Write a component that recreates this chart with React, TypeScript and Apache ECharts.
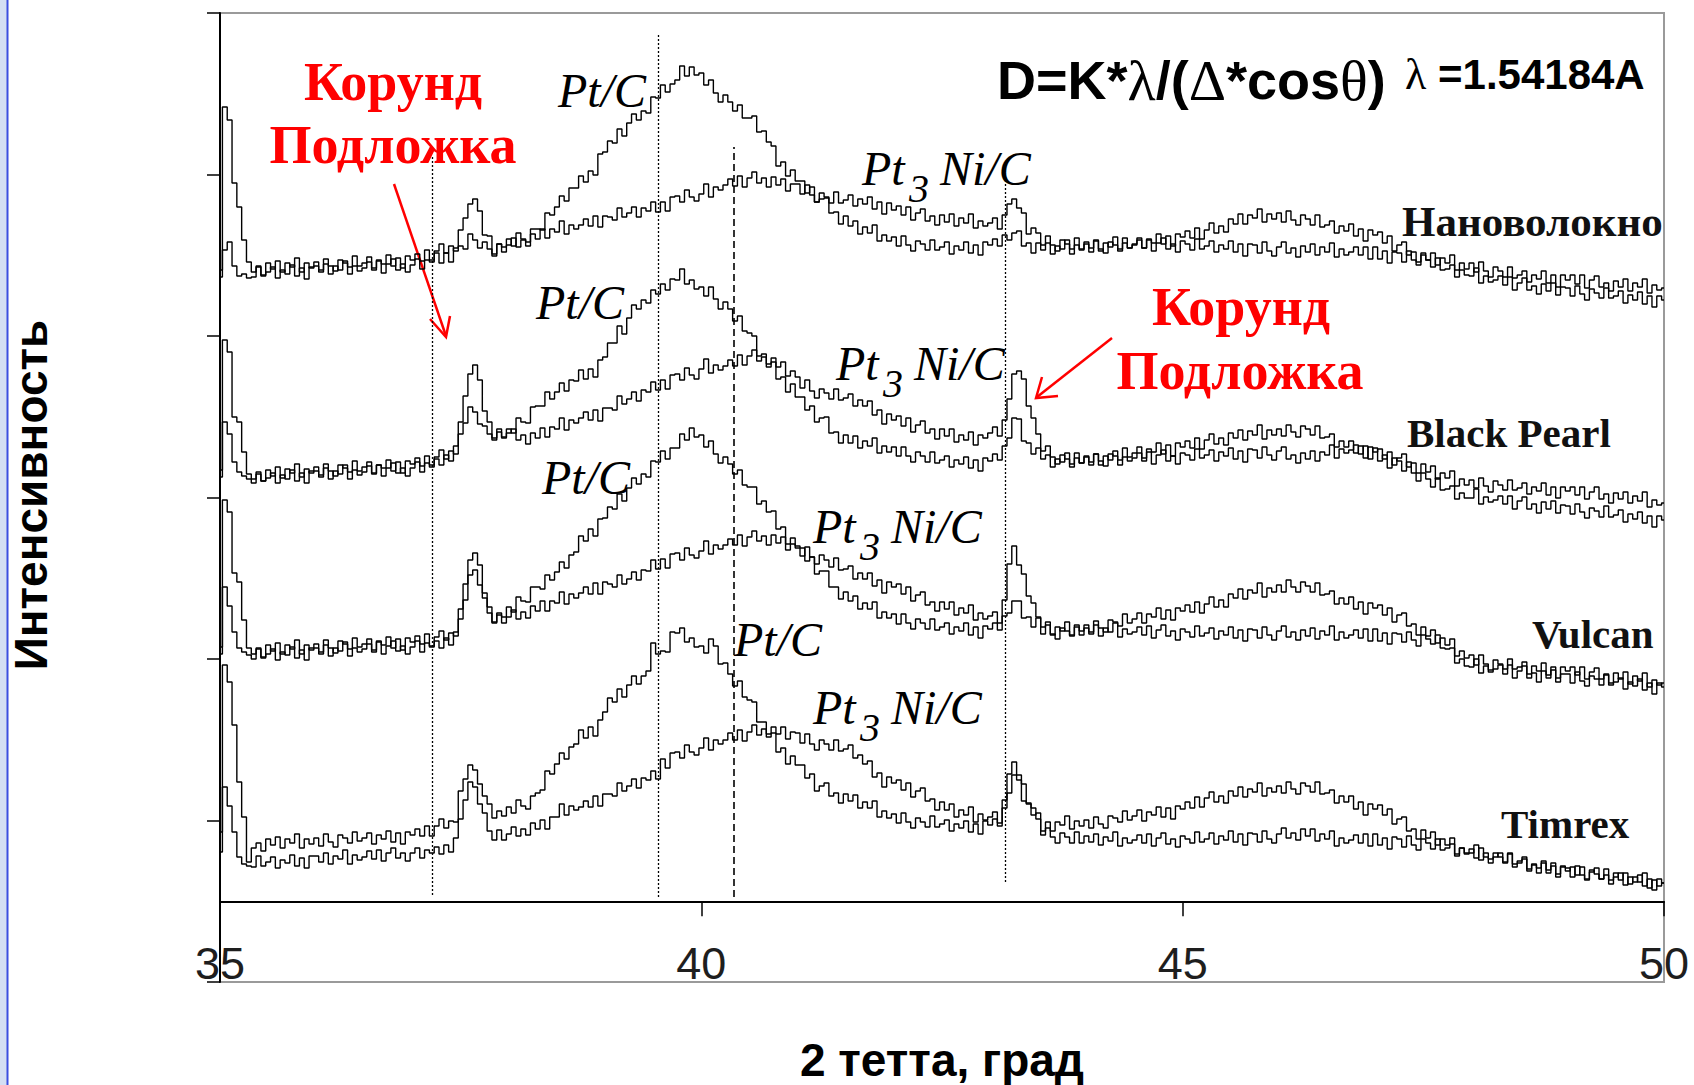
import React, { useEffect, useRef } from "react";
import * as echarts from "echarts";

// 2θ scan grid, 0.05° step from 35° to 50°
const twoTheta: number[] = Array.from({ length: 301 }, (_, i) => Math.round((35 + i * 0.05) * 100) / 100);

// Intensities (arbitrary units, stacked offsets per support)
const nanoPtC = [
  712,875,862,799,775,742,720,710,715,707,719,713,721,710,719,715,724,710,719,714,
  720,712,723,716,711,722,719,715,726,716,719,725,714,722,718,727,716,724,714,726,
  722,728,721,732,722,731,738,729,736,731,752,764,778,783,771,747,746,728,738,735,
  743,736,749,743,740,753,753,752,769,767,775,786,781,794,794,806,800,811,807,828,
  830,841,839,853,846,859,868,862,871,869,885,884,897,890,898,902,916,906,915,907,
  909,897,902,889,880,887,880,871,877,864,864,866,850,851,840,836,816,820,806,812,
  801,801,789,795,780,783,784,769,770,758,766,756,761,748,755,749,757,741,747,741,
  745,736,746,737,731,741,738,732,742,732,735,740,728,736,732,740,729,737,727,740,
  737,743,736,747,742,749,751,736,739,729,739,732,739,728,736,733,742,728,737,732,
  738,730,741,733,729,740,737,733,744,734,738,744,734,742,739,748,738,746,736,748,
  745,751,744,754,743,752,759,749,756,750,763,758,768,758,767,764,773,760,768,763,
  769,760,771,762,757,767,763,757,767,755,757,761,749,756,751,758,746,753,741,752,
  747,750,739,746,731,737,740,727,730,720,729,722,729,717,724,719,727,712,719,713,
  719,710,720,711,705,715,711,705,715,704,707,711,700,707,703,711,699,707,695,707,
  702,707,698,707,694,702,706,695,699,691,701,695,703,691,699,695,703,689,697,692,694,
];

const nanoPt3Ni = [
  705,732,740,716,706,708,704,705,716,706,710,715,704,712,708,717,706,714,703,715,
  716,710,718,708,716,712,721,708,716,711,714,720,712,721,709,718,723,712,718,710,
  717,723,713,722,720,729,719,729,720,734,736,733,748,742,734,740,733,726,738,730,
  737,744,735,742,736,748,743,753,744,753,750,761,748,757,753,757,763,756,766,755,
  766,765,762,774,765,769,775,765,774,771,780,770,780,771,785,786,780,792,785,781,
  788,798,785,795,792,797,803,796,806,795,804,810,799,804,795,805,797,803,791,798,
  798,788,797,787,780,789,785,779,790,779,782,787,776,783,778,785,773,780,768,779,
  772,776,767,775,762,769,773,761,766,757,767,760,768,756,764,759,768,754,761,756,
  759,764,753,767,778,783,774,769,748,754,749,737,746,737,731,742,738,733,744,733,
  740,734,742,731,739,735,745,731,739,734,737,742,734,743,731,739,744,733,738,730,
  741,738,732,743,733,736,741,730,737,733,741,730,738,726,738,737,729,740,731,726,
  735,740,729,734,725,736,730,738,727,735,730,739,725,733,727,730,735,727,735,723,
  735,723,731,719,730,729,720,731,722,717,727,722,715,724,712,713,717,705,712,707,
  706,714,699,706,700,702,706,697,705,692,699,704,692,696,688,698,691,699,687,695,
  694,686,696,688,682,693,689,684,694,684,686,691,679,687,682,690,678,686,675,686,682,
];

const blackPearlPtC = [
  512,642,630,565,560,530,508,503,508,501,512,506,515,504,513,509,518,505,513,509,
  515,507,518,511,506,517,514,510,521,511,515,520,509,517,514,522,511,520,509,521,
  518,524,516,526,515,525,532,523,531,528,560,586,608,617,602,571,560,544,550,545,
  553,549,564,560,559,575,576,576,590,583,590,599,591,602,601,612,603,613,605,622,
  625,639,639,656,648,664,677,673,682,679,692,688,698,692,703,702,713,698,702,693,
  695,686,695,683,673,680,673,661,666,651,649,646,626,628,618,620,603,605,590,598,
  585,585,572,576,560,564,565,549,550,539,547,539,546,534,541,536,544,529,536,530,
  535,526,535,526,520,530,526,520,530,519,522,526,515,522,518,525,514,522,511,524,
  521,528,522,536,544,564,563,541,539,528,534,523,527,515,523,520,529,515,524,519,
  525,517,528,521,516,528,526,522,534,525,529,535,524,533,530,539,528,537,526,539,
  535,541,534,544,533,542,548,538,544,537,549,544,552,542,551,547,557,543,552,547,
  553,546,557,550,545,556,553,547,556,544,545,548,535,541,535,541,529,536,524,535,
  530,533,523,530,517,524,528,515,519,509,518,510,516,503,509,504,511,496,503,497,
  502,494,504,496,490,501,497,492,502,492,494,499,488,495,491,499,487,495,484,495,
  491,495,487,495,483,490,495,483,488,479,489,483,490,479,486,481,490,475,482,477,479,
];

const blackPearlPt3Ni = [
  505,560,548,520,510,506,503,499,510,501,504,509,499,507,503,512,501,509,499,511,
  511,505,514,503,511,508,517,503,512,507,510,516,508,517,506,514,519,509,514,506,
  514,520,510,519,517,523,517,527,521,536,548,559,575,570,558,556,548,542,553,544,
  549,553,542,547,538,549,544,554,545,555,553,564,552,562,559,564,570,562,572,561,
  574,574,572,586,578,583,590,581,592,590,600,592,602,593,607,608,602,614,607,603,
  613,623,609,617,612,616,622,616,627,617,626,632,621,625,615,624,615,620,606,611,
  605,594,602,591,584,593,589,583,593,582,584,588,576,582,576,581,567,572,558,568,
  562,566,556,564,550,557,561,549,553,543,553,546,553,540,547,542,550,537,547,544,
  549,555,546,562,583,608,611,603,576,564,548,531,536,525,518,527,523,518,529,519,
  526,520,528,517,526,522,531,517,525,521,524,529,521,530,518,527,532,521,526,518,
  529,527,522,533,524,527,532,521,530,526,534,523,531,520,533,532,524,535,527,522,
  531,535,523,527,519,529,523,531,521,530,527,537,524,533,529,532,537,528,536,523,
  534,521,527,514,524,521,511,520,509,501,509,503,495,504,492,493,496,483,489,484,
  484,493,478,485,480,482,486,478,486,473,481,485,473,478,469,480,473,481,469,477,
  476,468,478,470,464,474,471,465,476,465,467,472,460,468,463,470,459,466,455,466,462,
];

const vulcanPtC = [
  335,482,470,409,400,362,334,328,333,325,337,331,339,328,337,333,342,328,337,332,
  338,330,342,334,329,341,338,333,344,335,338,343,332,341,337,345,334,343,332,344,
  340,346,338,348,336,345,351,342,349,346,373,398,422,429,417,389,375,360,367,365,
  375,370,385,381,380,395,395,393,407,402,410,420,414,427,430,446,441,453,446,463,
  464,475,473,488,481,494,504,498,508,505,521,520,531,523,534,534,548,542,554,545,
  547,535,541,528,519,525,518,508,512,497,495,495,478,481,470,471,453,455,438,444,
  434,434,421,425,408,411,411,395,395,383,390,381,386,373,379,373,380,364,370,364,
  368,358,368,359,353,363,359,353,363,352,355,359,348,355,351,359,347,355,344,356,
  353,359,352,366,369,381,381,364,365,355,364,355,360,347,355,351,360,347,355,351,
  357,350,361,354,350,362,360,356,368,359,363,369,359,368,365,374,363,372,362,374,
  371,377,370,380,369,378,385,375,382,375,388,384,393,383,392,389,399,385,394,390,
  397,390,402,395,390,400,396,390,399,387,388,391,378,384,378,385,373,380,368,379,
  374,377,367,374,360,367,369,356,358,347,355,346,352,339,344,337,343,326,331,324,
  327,317,327,318,312,322,318,313,323,313,315,320,308,316,311,319,307,315,304,315,
  311,315,307,315,303,310,314,303,307,299,309,303,310,298,306,301,309,295,302,297,299,
];

const vulcanPt3Ni = [
  328,395,376,350,334,330,327,323,334,324,328,333,322,330,327,335,324,332,322,334,
  334,328,337,326,334,331,340,326,334,330,333,338,330,340,328,336,341,331,336,328,
  335,341,330,339,335,341,334,344,337,350,363,382,407,412,397,384,369,359,369,359,
  365,372,363,370,364,376,371,381,371,381,379,390,378,388,384,389,395,388,399,388,
  400,398,395,407,398,403,410,402,412,411,422,413,423,414,428,429,422,434,427,424,
  431,441,428,437,433,437,443,437,447,436,445,451,441,446,437,447,439,445,432,438,
  436,426,435,425,418,427,422,415,424,412,413,416,403,409,403,409,396,402,389,400,
  395,398,388,395,381,387,390,377,380,371,380,373,380,367,374,369,377,362,369,363,
  366,370,359,382,418,436,417,408,386,379,365,348,357,348,343,354,351,346,357,347,
  354,348,357,346,354,350,359,345,353,348,350,355,347,356,344,352,357,346,351,342,
  353,350,345,356,346,349,354,343,351,347,355,344,352,341,353,352,344,355,347,342,
  351,356,345,350,342,352,346,354,343,351,347,356,342,350,344,347,352,344,353,341,
  353,341,349,338,349,348,340,350,342,336,347,343,338,347,334,333,334,319,323,316,
  315,323,309,316,310,313,317,308,317,304,311,316,304,309,300,311,304,312,300,308,
  308,299,310,301,296,306,303,297,308,297,300,304,293,300,296,303,292,299,288,299,295,
];

const timrexPtC = [
  150,317,300,257,200,165,120,134,139,131,143,137,145,134,143,139,148,134,143,138,
  144,136,148,140,135,147,144,139,150,141,144,149,138,147,143,151,140,149,138,150,
  147,153,146,156,146,156,163,154,161,160,191,203,217,212,198,186,178,164,171,166,
  175,169,182,176,173,186,189,192,211,208,218,229,223,235,238,252,244,255,246,262,
  270,284,280,293,285,297,306,298,306,311,339,328,331,330,350,349,354,340,344,335,
  336,329,343,336,318,319,308,296,301,285,282,280,260,260,248,249,230,234,218,226,
  217,217,204,208,191,196,199,186,189,179,188,181,187,174,180,174,181,165,171,164,
  168,159,169,160,154,164,160,155,166,155,158,162,151,158,154,161,150,158,148,161,
  157,163,156,174,189,207,202,181,179,167,169,151,160,151,160,157,166,153,161,156,
  162,154,165,158,154,166,164,160,171,162,166,172,161,170,167,175,165,174,163,176,
  173,180,174,185,175,184,190,180,186,179,191,186,195,185,193,190,199,186,194,190,
  196,189,200,193,188,199,196,190,200,188,189,192,179,186,180,186,173,180,167,178,
  173,177,167,173,158,163,165,151,153,143,152,144,150,137,143,137,144,128,134,128,
  133,124,134,125,119,129,125,119,129,118,119,123,111,118,114,121,109,116,105,116,
  111,115,107,115,103,110,114,103,107,98,109,102,109,98,105,100,109,94,102,96,99,
];

const timrexPt3Ni = [
  130,195,176,150,125,118,116,115,126,116,120,125,114,122,119,127,116,124,114,126,
  126,120,129,118,126,123,132,118,127,122,125,131,123,132,121,129,134,124,129,121,
  129,134,124,132,129,135,128,137,130,144,163,182,200,195,178,169,151,142,152,142,
  148,155,146,153,147,159,153,162,153,165,165,178,167,176,172,175,181,175,186,176,
  188,188,186,199,191,196,203,194,204,202,211,203,223,214,229,230,224,237,230,227,
  234,244,232,242,238,242,249,242,252,241,250,257,247,253,245,255,248,255,243,250,
  249,239,248,238,232,242,238,232,242,231,233,237,224,227,218,221,205,209,195,205,
  199,202,192,199,185,191,194,181,183,172,180,172,178,165,172,167,175,160,168,162,
  165,170,159,182,208,220,207,198,178,174,163,147,154,145,139,149,145,139,150,139,
  146,140,148,137,145,141,150,136,144,139,142,147,139,148,136,144,149,138,143,135,
  146,143,139,150,140,143,149,138,146,142,151,140,148,137,149,148,140,151,143,139,
  148,154,144,149,142,153,146,153,141,148,143,151,136,144,139,142,147,139,148,136,
  148,137,144,133,145,143,135,146,137,132,143,139,133,143,132,134,138,126,134,129,
  129,137,122,129,123,125,129,120,128,115,121,125,113,117,109,119,112,119,108,115,
  114,105,116,107,102,112,108,103,113,102,105,109,97,105,100,107,96,103,92,103,99,
];

const traces = [
  { name: "Нановолокно Pt/C", values: nanoPtC },
  { name: "Нановолокно Pt3Ni/C", values: nanoPt3Ni },
  { name: "Black Pearl Pt/C", values: blackPearlPtC },
  { name: "Black Pearl Pt3Ni/C", values: blackPearlPt3Ni },
  { name: "Vulcan Pt/C", values: vulcanPtC },
  { name: "Vulcan Pt3Ni/C", values: vulcanPt3Ni },
  { name: "Timrex Pt/C", values: timrexPtC },
  { name: "Timrex Pt3Ni/C", values: timrexPt3Ni },
];

// Reference positions: corundum 37.2°, Pt(111) 39.55°, Pt3Ni(111) 40.34°, corundum 43.16°
const refPositions = [37.2, 39.55, 40.34, 43.16];
const refSpans = [[87, 825], [85, 947], [85, 835], [100, 805]];
const refDashed = [false, false, true, false];

const xTicks = { min: 35, max: 50, step: 5 };
const yRange = { max: 969, step: 161.5 };

const SANS = '"Liberation Sans", Arial, sans-serif';
const SERIF = '"Liberation Serif", "Times New Roman", serif';

function txt(text: string, x: number, y: number, o: any = {}) {
  const style: any = {
    text,
    fill: o.fill || "#000",
    fontSize: o.size || 40,
    fontFamily: o.family || SANS,
    fontWeight: o.weight || "normal",
    fontStyle: o.italic ? "italic" : "normal",
    align: o.align || "left",
    verticalAlign: "middle",
    textAlign: o.align || "left",
    textVerticalAlign: "middle",
  };
  if (o.rich) style.rich = o.rich;
  return {
    type: "text",
    x,
    y,
    rotation: o.rotation || 0,
    scaleX: o.scaleX || 1,
    silent: true,
    z: 10,
    style,
  };
}

function ptNiLabel(x: number, y: number) {
  return [
    txt("Pt", x, y, { size: 48, family: SERIF, italic: true }),
    txt("3", x + 47, y + 20, { size: 40, family: SERIF, italic: true }),
    txt("Ni/C", x + 78, y, { size: 48, family: SERIF, italic: true }),
  ];
}

const formulaRich = {
  a: { fontSize: 54, fontWeight: "bold", fontFamily: SANS, fill: "#000" },
  g: { fontSize: 58, fontWeight: "normal", fontFamily: SERIF, fill: "#000" },
  b: { fontSize: 42, fontWeight: "bold", fontFamily: SANS, fill: "#000" },
  h: { fontSize: 44, fontWeight: "normal", fontFamily: SERIF, fill: "#000" },
};

function buildOption(): any {
  const lineSeries = traces.map((t, k) => {
    const n = Math.min(twoTheta.length, t.values.length);
    const data = [] as number[][];
    for (let i = 0; i < n; i++) data.push([twoTheta[i], t.values[i]]);
    const s: any = {
      type: "line",
      name: t.name,
      data,
      step: "middle",
      symbol: "none",
      silent: true,
      z: 3,
      lineStyle: { color: "#000", width: 1.4 },
    };
    if (k === 0) {
      s.markLine = {
        silent: true,
        symbol: ["none", "none"],
        label: { show: false },
        data: refPositions.map((x, j) => [
          {
            coord: [x, refSpans[j][0]],
            lineStyle: refDashed[j]
              ? { type: [7, 4], color: "#000", width: 1.6 }
              : { type: [2, 2], color: "#000", width: 1.3 },
          },
          { coord: [x, refSpans[j][1]] },
        ]),
      };
    }
    return s;
  });

  const graphic: any[] = [
    { type: "rect", shape: { x: 0, y: 0, width: 7, height: 1085 }, style: { fill: "#d3dff3" }, silent: true },
    { type: "line", shape: { x1: 7.5, y1: 0, x2: 7.5, y2: 1085 }, style: { stroke: "#3a4fe0", lineWidth: 2 }, silent: true },

    txt("Интенсивность", 31, 495, { size: 46, weight: "bold", align: "center", rotation: Math.PI / 2 }),
    txt("2 тетта, град", 942, 1060, { size: 46, weight: "bold", align: "center" }),

    txt("{a|D=K*}{g|λ}{a|/(}{g|Δ}{a|*cos}{g|θ}{a|)}", 997, 80, { size: 54, weight: "bold", rich: formulaRich }),
    txt("{h|λ}{b| =1.54184A}", 1405, 74, { size: 42, weight: "bold", rich: formulaRich }),

    txt("Корунд", 393, 82, { size: 54, weight: "bold", family: SERIF, fill: "#ff0000", align: "center" }),
    txt("Подложка", 393, 145, { size: 54, weight: "bold", family: SERIF, fill: "#ff0000", align: "center" }),
    txt("Корунд", 1241, 307, { size: 54, weight: "bold", family: SERIF, fill: "#ff0000", align: "center" }),
    txt("Подложка", 1240, 371, { size: 54, weight: "bold", family: SERIF, fill: "#ff0000", align: "center" }),
    { type: "line", shape: { x1: 394, y1: 184, x2: 446, y2: 336 }, style: { stroke: "#ff0000", lineWidth: 2.5 }, silent: true },
    { type: "polyline", shape: { points: [[430, 319], [446, 337], [450, 316]] }, style: { stroke: "#ff0000", lineWidth: 2.5, fill: null }, silent: true },
    { type: "line", shape: { x1: 1112, y1: 338, x2: 1037, y2: 397 }, style: { stroke: "#ff0000", lineWidth: 2.5 }, silent: true },
    { type: "polyline", shape: { points: [[1042, 377], [1036, 398], [1058, 396]] }, style: { stroke: "#ff0000", lineWidth: 2.5, fill: null }, silent: true },

    txt("Pt/C", 558, 90, { size: 48, family: SERIF, italic: true }),
    ...ptNiLabel(862, 168),
    txt("Pt/C", 536, 302, { size: 48, family: SERIF, italic: true }),
    ...ptNiLabel(836, 363),
    txt("Pt/C", 542, 477, { size: 48, family: SERIF, italic: true }),
    ...ptNiLabel(813, 526),
    txt("Pt/C", 734, 639, { size: 48, family: SERIF, italic: true }),
    ...ptNiLabel(813, 707),

    txt("Нановолокно", 1402, 221, { size: 43, weight: "bold", family: SERIF, fill: "#111" }),
    txt("Black Pearl", 1407, 433, { size: 41, weight: "bold", family: SERIF, fill: "#111" }),
    txt("Vulcan", 1532, 634, { size: 41, weight: "bold", family: SERIF, fill: "#111" }),
    txt("Timrex", 1501, 824, { size: 41, weight: "bold", family: SERIF, fill: "#111" }),
  ];

  return {
    animation: false,
    backgroundColor: "#fff",
    grid: {
      left: 220,
      top: 13,
      width: 1444,
      height: 969,
      show: true,
      borderColor: "#9a9a9a",
      borderWidth: 2,
    },
    xAxis: {
      type: "value",
      min: xTicks.min,
      max: xTicks.max,
      interval: xTicks.step,
      axisLine: { show: true, onZero: true, onZeroAxisIndex: 1, lineStyle: { color: "#000", width: 2 } },
      axisTick: { show: true, inside: false, length: 15, lineStyle: { color: "#000", width: 1.5 } },
      axisLabel: {
        show: true,
        margin: -41,
        fontSize: 45,
        fontFamily: SANS,
        color: "#1e1e1e",
        showMinLabel: true,
        showMaxLabel: true,
      },
      splitLine: { show: false },
    },
    yAxis: [
      {
        type: "value",
        min: 0,
        max: yRange.max,
        interval: yRange.step,
        axisLine: { show: true, lineStyle: { color: "#000", width: 2 } },
        axisTick: { show: true, inside: false, length: 13, lineStyle: { color: "#000", width: 1.5 } },
        axisLabel: { show: false },
        splitLine: { show: false },
      },
      { type: "value", min: -1, max: 11, show: false, splitLine: { show: false } },
    ],
    series: lineSeries,
    graphic,
  };
}

export default function App() {
  const ref = useRef<HTMLDivElement>(null);
  useEffect(() => {
    if (!ref.current) return;
    const chart = echarts.init(ref.current, null, { renderer: "svg" });
    chart.setOption(buildOption());
    return () => chart.dispose();
  }, []);
  return (
    <div
      ref={ref}
      style={{ position: "fixed", left: 0, top: 0, width: 1694, height: 1085, background: "#fff" }}
    />
  );
}
